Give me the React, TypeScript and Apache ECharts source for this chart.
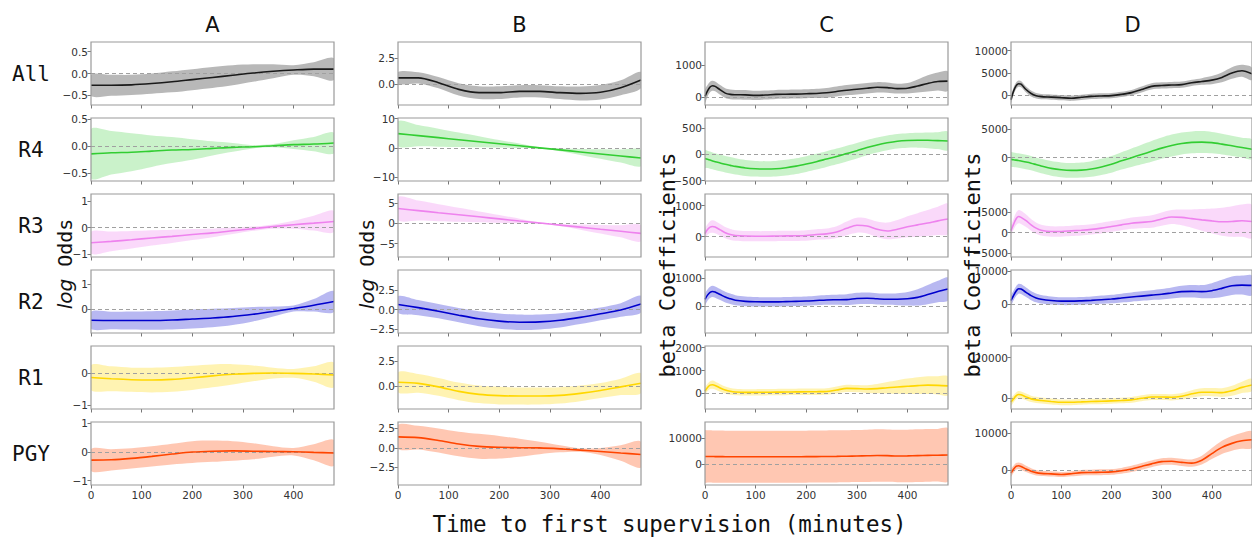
import React, { useEffect, useRef } from "react";
import * as echarts from "echarts";

// ---------- x grids (minutes) ----------
const X_COARSE = [0, 40, 80, 120, 160, 200, 240, 280, 320, 360, 400, 440, 480];
const X_FINE = [0, 5, 10, 15, 20, 30, 40, 50, 60, 80, 100, 120, 140, 160, 180, 200, 220, 240, 260, 280, 300, 320, 340, 360, 380, 400, 420, 440, 460, 480];
const X_TICKS = [0, 100, 200, 300, 400];

const COLUMNS = ["A", "B", "C", "D"];
const ROWS = ["All", "R4", "R3", "R2", "R1", "PGY"];

// ---------- Column A (log odds) : mean and half-width of band ----------
const A_ALL_MEAN = [-0.27, -0.27, -0.26, -0.23, -0.19, -0.14, -0.09, -0.04, 0.01, 0.05, 0.08, 0.1, 0.1];
const A_ALL_W = [0.24, 0.24, 0.23, 0.23, 0.24, 0.24, 0.24, 0.23, 0.2, 0.16, 0.11, 0.16, 0.25];
const A_R4_MEAN = [-0.14, -0.12, -0.11, -0.09, -0.07, -0.06, -0.04, -0.02, -0.01, 0.01, 0.03, 0.04, 0.06];
const A_R4_W = [0.45, 0.4, 0.35, 0.29, 0.24, 0.19, 0.13, 0.08, 0.03, 0.03, 0.08, 0.13, 0.19];
const A_R3_MEAN = [-0.57, -0.52, -0.46, -0.39, -0.33, -0.26, -0.2, -0.12, -0.04, 0.04, 0.11, 0.17, 0.23];
const A_R3_W = [0.41, 0.37, 0.33, 0.29, 0.25, 0.21, 0.16, 0.12, 0.08, 0.08, 0.15, 0.28, 0.4];
const A_R2_MEAN = [-0.45, -0.46, -0.46, -0.46, -0.44, -0.4, -0.36, -0.3, -0.21, -0.1, 0.02, 0.15, 0.3];
const A_R2_W = [0.34, 0.35, 0.36, 0.37, 0.38, 0.38, 0.37, 0.34, 0.29, 0.2, 0.12, 0.25, 0.42];
const A_R1_MEAN = [-0.13, -0.17, -0.2, -0.21, -0.19, -0.14, -0.08, -0.03, 0.0, 0.01, 0.0, -0.02, -0.05];
const A_R1_W = [0.39, 0.39, 0.38, 0.39, 0.39, 0.38, 0.36, 0.32, 0.25, 0.17, 0.14, 0.24, 0.39];
const A_PGY_MEAN = [-0.28, -0.27, -0.22, -0.15, -0.07, 0.0, 0.03, 0.04, 0.03, 0.02, 0.01, -0.01, -0.03];
const A_PGY_W = [0.38, 0.37, 0.35, 0.35, 0.36, 0.38, 0.37, 0.34, 0.28, 0.18, 0.13, 0.28, 0.45];

// ---------- Column B (log odds) ----------
const B_ALL_MEAN = [0.6, 0.6, 0.13, -0.52, -0.84, -0.84, -0.71, -0.71, -0.84, -0.91, -0.8, -0.36, 0.39];
const B_ALL_W = [0.57, 0.55, 0.55, 0.6, 0.62, 0.62, 0.6, 0.6, 0.62, 0.68, 0.7, 0.72, 0.8];
const B_R4_MEAN = [4.9, 4.21, 3.52, 2.83, 2.13, 1.44, 0.75, 0.06, -0.63, -1.33, -2.02, -2.71, -3.4];
const B_R4_W = [4.2, 3.6, 3.05, 2.45, 1.9, 1.3, 0.75, 0.15, 0.45, 1.0, 1.6, 2.2, 2.75];
const B_R3_MEAN = [3.7, 3.19, 2.67, 2.16, 1.65, 1.14, 0.62, 0.11, -0.4, -0.91, -1.43, -1.94, -2.45];
const B_R3_W = [2.85, 2.47, 2.09, 1.71, 1.33, 0.95, 0.57, 0.19, 0.21, 0.63, 1.05, 1.5, 2.0];
const B_R2_MEAN = [0.65, 0.25, -0.2, -0.7, -1.15, -1.45, -1.6, -1.55, -1.35, -0.98, -0.53, -0.04, 0.7];
const B_R2_W = [1.05, 0.95, 0.9, 0.9, 0.95, 0.97, 0.97, 0.95, 0.9, 0.85, 0.8, 0.85, 1.05];
const B_R1_MEAN = [0.42, 0.3, -0.05, -0.5, -0.8, -0.93, -0.97, -0.97, -0.9, -0.7, -0.42, -0.05, 0.32];
const B_R1_W = [1.0, 0.95, 0.9, 0.88, 0.88, 0.88, 0.86, 0.85, 0.82, 0.78, 0.75, 0.82, 1.0];
const B_PGY_MEAN = [1.42, 1.32, 0.95, 0.5, 0.2, 0.08, 0.03, 0.0, -0.12, -0.28, -0.45, -0.65, -0.85];
const B_PGY_W = [1.52, 1.52, 1.55, 1.58, 1.6, 1.45, 1.15, 0.8, 0.45, 0.22, 0.45, 1.0, 1.65];

// ---------- Column C (beta coefficients) ----------
const C_ALL_MEAN = [30, 200, 320, 360, 340, 230, 130, 90, 80, 75, 60, 70, 90, 95, 100, 110, 120, 140, 180, 220, 250, 280, 310, 300, 270, 280, 350, 430, 490, 500];
const C_ALL_W = [200, 180, 165, 155, 150, 150, 150, 150, 150, 150, 140, 140, 140, 140, 140, 140, 145, 150, 155, 160, 165, 165, 160, 155, 150, 160, 200, 250, 280, 300];
const C_R4_MEAN = [-80, -95, -110, -125, -140, -165, -190, -210, -230, -260, -275, -280, -275, -255, -225, -185, -140, -90, -40, 15, 70, 130, 180, 220, 250, 265, 270, 268, 262, 255];
const C_R4_W = [165, 164, 163, 162, 161, 160, 158, 157, 155, 152, 150, 150, 150, 150, 150, 150, 150, 150, 150, 150, 148, 146, 144, 142, 140, 140, 142, 150, 162, 175];
const C_R3_MEAN = [100, 230, 310, 330, 310, 220, 130, 70, 40, 20, 15, 15, 20, 25, 30, 40, 70, 90, 150, 270, 370, 345, 240, 185, 240, 320, 380, 440, 510, 570];
const C_R3_W = [150, 170, 190, 200, 200, 190, 180, 175, 170, 165, 165, 165, 165, 165, 165, 170, 170, 175, 190, 220, 240, 245, 250, 270, 300, 340, 380, 420, 455, 485];
const C_R2_MEAN = [250, 400, 500, 530, 510, 420, 330, 270, 220, 180, 165, 160, 160, 170, 180, 190, 210, 230, 235, 240, 280, 290, 270, 255, 255, 270, 320, 420, 530, 620];
const C_R2_W = [200, 200, 200, 200, 200, 195, 190, 185, 180, 175, 170, 165, 165, 165, 165, 165, 170, 175, 180, 190, 200, 205, 200, 200, 210, 240, 290, 340, 380, 400];
const C_R1_MEAN = [100, 260, 360, 380, 350, 240, 150, 90, 60, 45, 45, 50, 55, 60, 65, 70, 75, 85, 150, 220, 210, 190, 210, 250, 280, 310, 340, 360, 350, 330];
const C_R1_W = [150, 160, 170, 180, 175, 165, 155, 150, 145, 140, 140, 140, 140, 140, 140, 140, 140, 140, 150, 160, 160, 170, 200, 250, 300, 340, 370, 390, 400, 410];
const C_PGY_MEAN = [3000, 3000, 2980, 2960, 2950, 2930, 2910, 2900, 2890, 2880, 2870, 2870, 2870, 2880, 2900, 2920, 2950, 2980, 3020, 3080, 3150, 3250, 3350, 3300, 3150, 3200, 3300, 3400, 3480, 3550];
const C_PGY_W = [9900, 9900, 9890, 9880, 9880, 9870, 9860, 9860, 9850, 9850, 9850, 9850, 9850, 9850, 9850, 9850, 9850, 9850, 9850, 9860, 9870, 9880, 9900, 9920, 9940, 9950, 9950, 9950, 9950, 9950];

// ---------- Column D (beta coefficients) ----------
const D_ALL_MEAN = [-1000, 900, 2100, 2600, 2500, 1300, 400, -100, -300, -400, -530, -650, -450, -250, -150, -80, 200, 600, 1300, 2000, 2200, 2300, 2400, 2800, 3100, 3400, 4000, 5000, 5500, 4800];
const D_ALL_W = [800, 800, 750, 700, 700, 650, 650, 600, 600, 600, 600, 600, 600, 600, 600, 600, 600, 600, 650, 700, 700, 700, 700, 700, 750, 900, 1100, 1300, 1350, 1400];
const D_R4_MEAN = [-300, -350, -420, -500, -580, -750, -950, -1200, -1450, -1850, -2100, -2200, -2150, -1950, -1600, -1150, -550, 0, 550, 1100, 1650, 2100, 2450, 2650, 2700, 2600, 2350, 2050, 1750, 1450];
const D_R4_W = [1250, 1250, 1250, 1250, 1250, 1250, 1250, 1250, 1260, 1270, 1280, 1280, 1300, 1350, 1400, 1450, 1500, 1600, 1700, 1800, 1850, 1900, 1900, 1900, 1900, 1850, 1800, 1750, 1700, 1650];
const D_R3_MEAN = [500, 2000, 3300, 3900, 3700, 2900, 1900, 1100, 600, 300, 300, 450, 600, 800, 1100, 1500, 1900, 2300, 2500, 2700, 3300, 3800, 3700, 3400, 3100, 2850, 2650, 2700, 2900, 2700];
const D_R3_W = [1000, 1300, 1500, 1600, 1600, 1500, 1400, 1350, 1300, 1250, 1250, 1250, 1250, 1250, 1300, 1300, 1300, 1350, 1400, 1500, 1600, 1700, 1900, 2200, 2600, 3000, 3400, 3700, 3900, 4000];
const D_R2_MEAN = [1000, 2500, 3800, 4600, 4500, 3500, 2500, 1800, 1400, 1000, 800, 800, 900, 1050, 1250, 1450, 1750, 2050, 2350, 2650, 2900, 3300, 3700, 3800, 3700, 4000, 4700, 5500, 5700, 5600];
const D_R2_W = [1500, 1500, 1500, 1500, 1500, 1450, 1400, 1350, 1300, 1250, 1200, 1200, 1200, 1200, 1250, 1300, 1350, 1400, 1450, 1500, 1600, 1700, 1800, 1900, 2000, 2300, 2600, 2800, 2900, 3000];
const D_R1_MEAN = [-2000, -500, 1000, 1700, 1500, 500, -500, -1000, -1300, -1800, -2200, -2200, -2000, -1800, -1700, -1500, -1300, -1000, -200, 400, 400, 300, 800, 2000, 2800, 2800, 2600, 3500, 5200, 6400];
const D_R1_W = [1800, 1750, 1700, 1700, 1700, 1650, 1600, 1550, 1500, 1450, 1400, 1400, 1400, 1400, 1400, 1400, 1400, 1400, 1450, 1500, 1500, 1550, 1650, 1800, 1950, 2050, 2200, 2500, 2800, 3000];
const D_PGY_MEAN = [-800, 200, 1000, 1200, 1000, 300, -300, -700, -900, -1050, -1200, -1000, -700, -650, -600, -500, -200, 300, 1000, 1700, 2300, 2400, 2100, 1900, 2700, 4500, 6200, 7300, 8000, 8300];
const D_PGY_W = [1000, 950, 900, 900, 900, 850, 800, 750, 700, 700, 700, 700, 750, 750, 800, 800, 800, 850, 900, 900, 900, 950, 1000, 1000, 1200, 1500, 1800, 2000, 2200, 2300];

// ---------- y axis extents and tick labels ----------
const A_YLIM = [[-0.72, 0.72], [-0.64, 0.52], [-1.11, 1.27], [-0.96, 1.56], [-1.12, 0.86], [-1.15, 1.05]];
const A_TICKS = [[-0.5, 0, 0.5], [-0.5, 0, 0.5], [-1, 0, 1], [0, 1], [-1, 0], [-1, 0, 1]];
const A_DEC = [1, 1, 0, 0, 0, 0];
const B_YLIM = [[-2.04, 4.09], [-11.2, 10.2], [-8.3, 7.3], [-2.95, 5.0], [-2.27, 4.05], [-4.75, 3.32]];
const B_TICKS = [[0, 2.5], [-10, 0, 10], [-5, 0, 5], [-2.5, 0, 2.5], [0, 2.5], [-2.5, 0, 2.5]];
const B_DEC = [1, 0, 0, 1, 1, 1];
const C_YLIM = [[-238, 1712], [-509, 694], [-655, 1377], [-941, 1290], [-683, 2074], [-7810, 16040]];
const C_TICKS = [[0, 1000], [-500, 0, 500], [0, 1000], [0, 1000], [0, 1000, 2000], [0, 10000]];
const C_DEC = [0, 0, 0, 0, 0, 0];
const D_YLIM = [[-2175, 11950], [-4040, 6870], [-5870, 9350], [-8900, 10300], [-5510, 25700], [-4080, 13140]];
const D_TICKS = [[0, 5000, 10000], [0, 5000], [-5000, 0, 5000], [0, 10000], [0, 20000], [0, 10000]];
const D_DEC = [0, 0, 0, 0, 0, 0];

const MEANS = [
  [A_ALL_MEAN, A_R4_MEAN, A_R3_MEAN, A_R2_MEAN, A_R1_MEAN, A_PGY_MEAN],
  [B_ALL_MEAN, B_R4_MEAN, B_R3_MEAN, B_R2_MEAN, B_R1_MEAN, B_PGY_MEAN],
  [C_ALL_MEAN, C_R4_MEAN, C_R3_MEAN, C_R2_MEAN, C_R1_MEAN, C_PGY_MEAN],
  [D_ALL_MEAN, D_R4_MEAN, D_R3_MEAN, D_R2_MEAN, D_R1_MEAN, D_PGY_MEAN],
];
const WIDTHS = [
  [A_ALL_W, A_R4_W, A_R3_W, A_R2_W, A_R1_W, A_PGY_W],
  [B_ALL_W, B_R4_W, B_R3_W, B_R2_W, B_R1_W, B_PGY_W],
  [C_ALL_W, C_R4_W, C_R3_W, C_R2_W, C_R1_W, C_PGY_W],
  [D_ALL_W, D_R4_W, D_R3_W, D_R2_W, D_R1_W, D_PGY_W],
];
const YLIMS = [A_YLIM, B_YLIM, C_YLIM, D_YLIM];
const YTICKS = [A_TICKS, B_TICKS, C_TICKS, D_TICKS];
const YDECS = [A_DEC, B_DEC, C_DEC, D_DEC];
const XS = [X_COARSE, X_COARSE, X_FINE, X_FINE];

// ---------- styling ----------
const LINE_COLORS = ["#1a1a1a", "#32cd32", "#ee82ee", "#0000cd", "#ffd700", "#ff4500"];
const BAND_COLORS = [
  "rgba(0,0,0,0.28)",
  "rgba(50,205,50,0.26)",
  "rgba(238,130,238,0.3)",
  "rgba(0,0,205,0.28)",
  "rgba(255,215,0,0.3)",
  "rgba(255,69,0,0.3)",
];
const COL_LEFT = [91, 398, 705, 1011];
const ROW_TOP = [42, 118, 194, 270, 346, 422];
const PW = 243;
const PH = 63;
const SPINE = "#9a9a9a";
const TICK_FONT = "DejaVu Sans";
const MONO = "DejaVu Sans Mono";

const fmt = (v: number, dec: number) => v.toFixed(dec).replace("-", "\u2212");

function buildOption() {
  const grid: any[] = [];
  const xAxis: any[] = [];
  const yAxis: any[] = [];
  const series: any[] = [];

  COLUMNS.forEach((_, c) => {
    ROWS.forEach((__, r) => {
      const i = c * 6 + r;
      const xs = XS[c];
      const mean = MEANS[c][r];
      const w = WIDTHS[c][r];
      const dec = YDECS[c][r];
      const bottom = r === ROWS.length - 1;

      grid.push({
        left: COL_LEFT[c],
        top: ROW_TOP[r],
        width: PW,
        height: PH,
        show: true,
        borderColor: SPINE,
        borderWidth: 1.2,
        backgroundColor: "rgba(0,0,0,0)",
        z: 10,
      });
      xAxis.push({
        type: "value",
        gridIndex: i,
        min: 0,
        max: 480,
        axisLine: { show: false, onZero: false },
        splitLine: { show: false },
        axisTick: { show: true, length: 3.5, lineStyle: { color: "#777", width: 1 }, customValues: X_TICKS },
        axisLabel: {
          show: bottom,
          customValues: X_TICKS,
          fontFamily: TICK_FONT,
          fontSize: 10.5,
          color: "#333",
          margin: 4,
        },
      });
      yAxis.push({
        type: "value",
        gridIndex: i,
        min: YLIMS[c][r][0],
        max: YLIMS[c][r][1],
        axisLine: { show: false, onZero: false },
        splitLine: { show: false },
        axisTick: { show: true, length: 3.5, lineStyle: { color: "#777", width: 1 }, customValues: YTICKS[c][r] },
        axisLabel: {
          customValues: YTICKS[c][r],
          formatter: (v: number) => fmt(v, dec),
          fontFamily: TICK_FONT,
          fontSize: 10.5,
          color: "#333",
          margin: 3,
        },
      });

      // confidence band
      series.push({
        type: "custom",
        xAxisIndex: i,
        yAxisIndex: i,
        silent: true,
        clip: true,
        z: 1,
        data: [[xs[0], mean[0]]],
        renderItem: (_p: any, api: any) => {
          const pts: number[][] = [];
          for (let k = 0; k < xs.length; k++) pts.push(api.coord([xs[k], mean[k] + w[k]]));
          for (let k = xs.length - 1; k >= 0; k--) pts.push(api.coord([xs[k], mean[k] - w[k]]));
          return {
            type: "polygon",
            shape: { points: pts, smooth: 0.3 },
            style: { fill: BAND_COLORS[r], stroke: "none" },
          };
        },
      });

      // estimate line + zero reference
      series.push({
        type: "line",
        xAxisIndex: i,
        yAxisIndex: i,
        data: xs.map((x, k) => [x, mean[k]]),
        smooth: 0.3,
        symbol: "none",
        showSymbol: false,
        silent: true,
        z: 6,
        lineStyle: { color: LINE_COLORS[r], width: 1.6 },
        markLine: {
          silent: true,
          symbol: ["none", "none"],
          label: { show: false },
          lineStyle: { color: "#a0a0a0", type: [4, 3], width: 1 },
          data: [{ yAxis: 0 }],
        },
      });
    });
  });

  const graphic: any[] = [];
  COLUMNS.forEach((t, c) => {
    graphic.push({
      type: "text",
      x: COL_LEFT[c] + PW / 2,
      y: 25,
      style: { text: t, font: `21px "DejaVu Sans"`, fill: "#111", textAlign: "center", textVerticalAlign: "middle" },
    });
  });
  ROWS.forEach((t, r) => {
    graphic.push({
      type: "text",
      x: 31,
      y: ROW_TOP[r] + PH / 2,
      style: { text: t, font: `21px "${MONO}"`, fill: "#111", textAlign: "center", textVerticalAlign: "middle" },
    });
  });
  [65, 367].forEach((x) => {
    graphic.push({
      type: "text",
      x,
      y: 264,
      rotation: Math.PI / 2,
      style: {
        text: "{i|log} {m|Odds}",
        font: `20px "${MONO}"`,
        fill: "#111",
        textAlign: "center",
        textVerticalAlign: "middle",
        rich: {
          i: { fontFamily: "DejaVu Sans", fontStyle: "italic", fontSize: 20, fill: "#111" },
          m: { fontFamily: MONO, fontSize: 20, fill: "#111" },
        },
      },
    });
  });
  [667, 972].forEach((x) => {
    graphic.push({
      type: "text",
      x,
      y: 265,
      rotation: Math.PI / 2,
      style: { text: "beta Coefficients", font: `22px "${MONO}"`, fill: "#111", textAlign: "center", textVerticalAlign: "middle" },
    });
  });
  graphic.push({
    type: "text",
    x: 669.5,
    y: 524,
    style: {
      text: "Time to first supervision (minutes)",
      font: `22.5px "${MONO}"`,
      fill: "#111",
      textAlign: "center",
      textVerticalAlign: "middle",
    },
  });

  return {
    animation: false,
    backgroundColor: "#ffffff",
    grid,
    xAxis,
    yAxis,
    series,
    graphic,
  };
}

export default function App() {
  const ref = useRef<HTMLDivElement>(null);
  useEffect(() => {
    if (!ref.current) return;
    const chart = echarts.init(ref.current, null, { renderer: "svg" });
    chart.setOption(buildOption() as any);
    return () => chart.dispose();
  }, []);
  return (
    <div
      ref={ref}
      style={{ position: "absolute", left: 0, top: 0, width: 1252, height: 539, background: "#fff" }}
    />
  );
}
